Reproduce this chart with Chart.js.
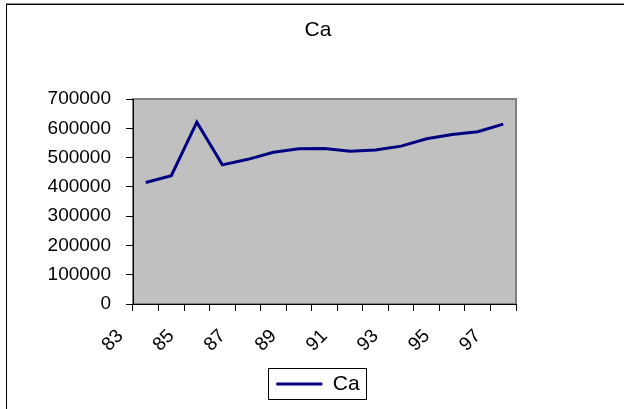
<!DOCTYPE html>
<html>
<head>
<meta charset="utf-8">
<script src="https://cdn.jsdelivr.net/npm/chart.js@4/dist/chart.umd.min.js"></script>
<style>
  html, body { margin: 0; padding: 0; background: #fff; }
  #wrap { width: 624px; height: 409px; }
</style>
</head>
<body>
<div id="wrap"><canvas id="c" width="624" height="409"></canvas></div>
<script>
// ---- data ----
const years = ['83','84','85','86','87','88','89','90','91','92','93','94','95','96','97'];
const caValues = [415000, 438000, 621000, 475000, 494000, 518000, 530000, 531000, 522000, 526000, 539000, 564000, 579000, 588000, 614000];
const yTicks = [0, 100000, 200000, 300000, 400000, 500000, 600000, 700000];
const seriesName = 'Ca';
const chartTitle = 'Ca';

const FONT = '"Liberation Sans", Arial, Helvetica, sans-serif';

const framePlugin = {
  id: 'frame',
  beforeDraw(chart) {
    const ctx = chart.ctx;
    const a = chart.chartArea;
    ctx.save();
    ctx.fillStyle = '#fff';
    ctx.fillRect(0, 0, chart.width, chart.height);
    // plot area
    ctx.fillStyle = '#C0C0C0';
    ctx.fillRect(a.left, a.top, a.right - a.left, a.bottom - a.top);
    ctx.strokeStyle = '#808080';
    ctx.lineWidth = 2;
    ctx.strokeRect(a.left, a.top, a.right - a.left, a.bottom - a.top);
    ctx.restore();
  },
  afterDraw(chart) {
    const ctx = chart.ctx;
    ctx.save();
    // outer chart frame (only left and top are visible)
    ctx.strokeStyle = '#888';
    ctx.lineWidth = 1;
    ctx.beginPath();
    ctx.moveTo(6, 3.5); ctx.lineTo(chart.width, 3.5);
    ctx.stroke();
    ctx.strokeStyle = '#000';
    ctx.beginPath();
    ctx.moveTo(6, 4.5); ctx.lineTo(chart.width, 4.5);
    ctx.moveTo(6.5, 4); ctx.lineTo(6.5, chart.height);
    ctx.stroke();
    // legend box
    const lg = chart.legend;
    if (lg && lg.legendHitBoxes && lg.legendHitBoxes.length) {
      const hb = lg.legendHitBoxes[0];
      const cy = hb.top + hb.height / 2;
      const l = Math.round(hb.left - 8) + 0.5;
      const r = Math.round(hb.left + hb.width + 6) + 0.5;
      const t = Math.round(cy - 16) + 0.5;
      const b = Math.round(cy + 15) + 0.5;
      ctx.strokeStyle = '#000';
      ctx.lineWidth = 1;
      ctx.strokeRect(l, t, r - l, b - t);
    }
    ctx.restore();
  }
};

new Chart(document.getElementById('c'), {
  type: 'line',
  data: {
    labels: years,
    datasets: [{
      label: seriesName,
      data: caValues,
      borderColor: '#000080',
      backgroundColor: '#000080',
      borderWidth: 3,
      pointRadius: 0,
      pointHoverRadius: 0,
      tension: 0,
      fill: false
    }]
  },
  options: {
    responsive: false,
    devicePixelRatio: 1,
    animation: false,
    events: [],
    layout: { padding: { left: 12, right: 0, top: 0, bottom: 4.5 } },
    plugins: {
      title: {
        display: true,
        text: chartTitle,
        color: '#000',
        font: { family: FONT, size: 21, weight: 'normal' },
        padding: { top: 17.4, bottom: 56.4 }
      },
      legend: {
        display: true,
        position: 'bottom',
        labels: {
          color: '#000',
          font: { family: FONT, size: 21 },
          usePointStyle: true,
          pointStyle: 'line',
          pointStyleWidth: 46,
          padding: 10
        }
      },
      tooltip: { enabled: false }
    },
    scales: {
      x: {
        type: 'category',
        offset: true,
        grid: { display: true, drawOnChartArea: false, offset: true, color: '#000', tickColor: '#000', tickLength: 7 },
        border: { display: true, color: '#000', width: 1 },
        ticks: {
          color: '#000',
          font: { family: FONT, size: 19 },
          autoSkip: false,
          minRotation: 45,
          maxRotation: 45,
          padding: 14,
          labelOffset: -25.5,
          callback: function(value, index) { return index % 2 === 0 ? this.getLabelForValue(value) : ''; }
        },
        afterFit: (s) => { s.height = 59.5; }
      },
      y: {
        type: 'linear',
        position: 'left',
        min: 0,
        max: 700000,
        afterBuildTicks: (s) => { s.ticks = yTicks.map(v => ({ value: v })); },
        grid: { display: true, drawOnChartArea: false, color: '#000', tickColor: '#000', tickLength: 7 },
        border: { display: true, color: '#000', width: 1 },
        ticks: {
          color: '#000',
          font: { family: FONT, size: 19 },
          padding: 15,
          callback: (v) => String(v)
        },
        afterFit: (s) => { s.width = 121; }
      },
      yRight: {
        type: 'linear',
        position: 'right',
        display: true,
        grid: { display: false },
        border: { display: false },
        ticks: { display: false },
        afterFit: (s) => { s.width = 108; }
      }
    }
  },
  plugins: [framePlugin]
});
</script>
</body>
</html>
